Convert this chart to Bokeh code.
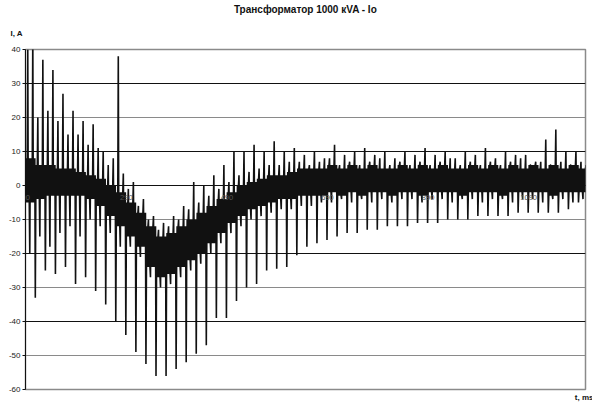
from bokeh.plotting import figure
from bokeh.models import Range1d, FixedTicker, Grid, LinearAxis, Title
from bokeh.embed import file_html
from bokeh.resources import INLINE

# ---- data (one entry per 20 ms mains cycle) ----
y_ticks = [40, 30, 20, 10, 0, -10, -20, -30, -40, -50, -60]
y_ticks_dark = [30, 10, 0, -20, -40, -60]
y_ticks_light = [40, 20, -10, -30, -50]
x_ticks = [90, 290, 490, 690, 890, 1090]
x_start, x_end = 89.5, 1203
y_start, y_end = -60, 40
cycle_ms = 20
cycle_start = list(range(90, 1210, 20))  # 56 cycles, t in ms

band_lo = [-5, -4, -3, -3, -3, -3, -4, -6, -9, -12,
           -15, -18, -24, -27, -26, -24, -22, -20, -17, -14,
           -11, -9, -7, -6, -5, -4, -4, -3, -3, -3,
           -2, -3, -2, -3, -2, -2, -3, -2, -2, -3,
           -2, -2, -2, -3, -2, -2, -2, -3, -2, -2,
           -2, -2, -3, -2, -2, -2]
band_hi = [8, 6, 6, 5, 5, 4, 3, 2, 0, -2,
           -5, -8, -12, -15, -14, -12, -10, -8, -6, -4,
           -2, 0, 1, 2, 3, 3, 4, 5, 5, 5,
           6, 5, 6, 5, 6, 5, 5, 6, 5, 6,
           5, 6, 5, 5, 6, 5, 6, 5, 6, 5,
           6, 5, 6, 5, 6, 5]
pos_peak = [45, 37, 34, 27, 22, 19, 18, 10, 8, 3.5,
            1, -4, -9, -11, -9, -6, 1, 0, 3, 6,
            10, 10, 12, 10, 13, 10, 11, 9, 10, 8,
            12, 9, 10, 11, 9, 10, 8, 10, 9, 11,
            9, 10, 8, 10, 9, 11, 8, 10, 9, 9,
            7, 13.5, 16.5, 10, 10, 6]
pos_second = [40, 20, 22, 19, 15, 15, 12, 11, 6, 38,
              -1, -6, -10, -13, -12, -10, -7, -5, -3, -1,
              1, 3, 4, 5, 6, 6, 7, 7, 6, 7,
              8, 6, 7, 6, 7, 8, 6, 7, 6, 7,
              6, 7, 8, 6, 7, 6, 7, 6, 7, 8,
              6, 7, 6, 7, 6, 7]
neg_second = [-20, -15, -18, -14, -12, -15, -10, -12, -14, -18,
              -18, -21, -27, -30, -29, -27, -25, -23, -20, -17,
              -14, -12, -10, -9, -8, -7, -7, -6, -6, -5,
              -5, -4, -5, -4, -5, -4, -5, -4, -4, -5,
              -4, -4, -5, -4, -4, -5, -4, -4, -5, -4,
              -4, -5, -4, -4, -5, -4]
neg_peak = [-33, -25, -26, -24, -29, -27, -31, -35, -40, -44,
            -49, -52.5, -56, -56, -54, -52, -49.5, -47, -39, -39,
            -34, -30, -29, -25, -24.5, -24, -20.5, -18, -17, -16,
            -15, -14, -14, -13, -13, -12, -12, -12, -11, -11,
            -11, -10, -10, -10, -9, -9, -9, -9, -8, -8,
            -8, -8, -8, -7, -5, -6]

# which reading sits at each millisecond of a cycle
phase_keys = ["lo", "hi", "lo", "hi", "p2", "lo", "hi", "lo", "n2", "hi",
              "lo", "hi", "lo", "hi", "pk", "lo", "hi", "lo", "hi", "nk"]

xs, ys = [], []
for i, t0 in enumerate(cycle_start):
    vals = {"lo": band_lo[i], "hi": band_hi[i], "pk": pos_peak[i],
            "p2": pos_second[i], "n2": neg_second[i], "nk": neg_peak[i]}
    for ph, key in enumerate(phase_keys):
        xs.append(t0 + ph * cycle_ms / len(phase_keys))
        ys.append(vals[key])

FONT = "Liberation Sans"

p = figure(width=592, height=403, x_range=Range1d(x_start, x_end), y_range=Range1d(y_start, y_end),
           output_backend="svg", toolbar_location=None, x_axis_location=None,
           min_border_left=25, min_border_right=7, min_border_top=47, min_border_bottom=14,
           background_fill_color="white", border_fill_color="white")

p.title.text = "Трансформатор 1000 кVA - Io"
p.title.align = "center"
p.title.text_font = FONT
p.title.text_font_size = "10px"
p.title.text_font_style = "bold"
p.title.text_color = "#111111"
p.title.standoff = 2

p.add_layout(Title(text="I, A", align="left", text_font=FONT, text_font_size="8px",
                   text_font_style="bold", text_color="#111111", offset=-15,
                   standoff=23), "above")
p.add_layout(Title(text="t, ms", align="right", text_font=FONT, text_font_size="8px",
                   text_font_style="bold", text_color="#111111", offset=-8,
                   standoff=2), "below")

p.outline_line_color = "#8a8a8a"
p.outline_line_width = 1.5

# y axis
yax = p.yaxis[0]
yax.ticker = FixedTicker(ticks=y_ticks)
yax.major_label_overrides = {v: str(v) for v in y_ticks}
yax.major_label_text_font = FONT
yax.major_label_text_font_size = "8px"
yax.major_label_text_color = "#222222"
yax.major_label_standoff = 2
yax.major_tick_out = 3
yax.major_tick_in = 0
yax.minor_tick_line_color = None
yax.axis_line_color = "#111111"
yax.major_tick_line_color = "#111111"

for g in p.xgrid:
    g.visible = False
p.ygrid.ticker = FixedTicker(ticks=y_ticks_dark)
p.ygrid.grid_line_color = "#111111"
p.add_layout(Grid(dimension=1, ticker=FixedTicker(ticks=y_ticks_light), grid_line_color="#8a8a8a"))

# category-style x axis crossing at I = 0
xax = LinearAxis(fixed_location=0, ticker=FixedTicker(ticks=x_ticks), level="overlay")
xax.major_label_overrides = {v: str(v) for v in x_ticks}
xax.major_label_text_font = FONT
xax.major_label_text_font_size = "7.5px"
xax.major_label_text_color = "#555555"
xax.major_label_standoff = 3
xax.major_tick_line_color = None
xax.minor_tick_line_color = None
xax.axis_line_color = "#111111"
p.add_layout(xax, "below")

p.line(xs, ys, line_color="#111111", line_width=1.6)

open("out.html", "w").write(file_html(p, INLINE))
